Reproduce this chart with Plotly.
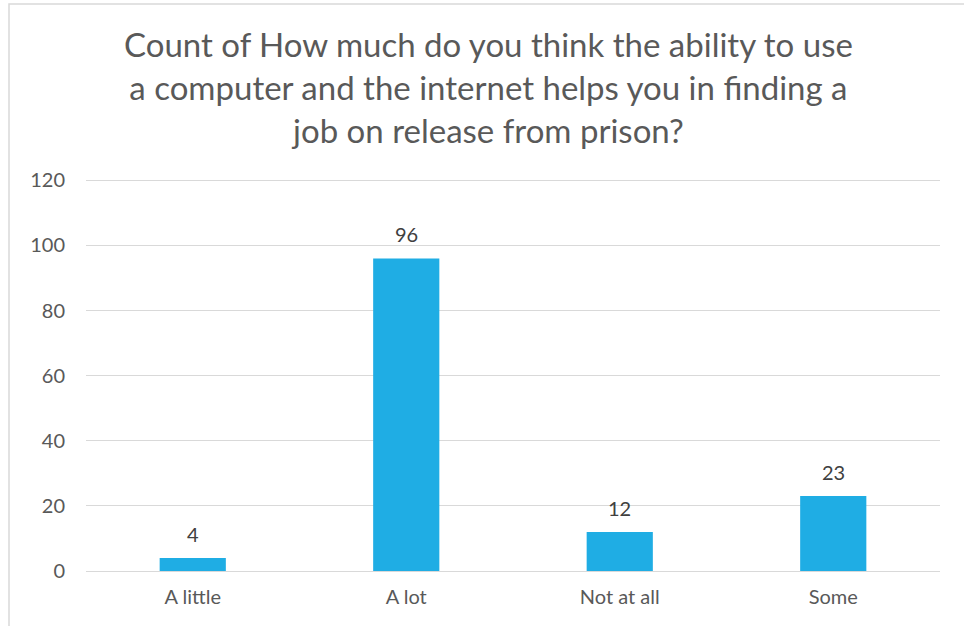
import plotly.graph_objects as go

categories = ["A little", "A lot", "Not at all", "Some"]
counts = [4, 96, 12, 23]
tick_vals = [0, 20, 40, 60, 80, 100, 120]
title_text = ("Count of How much do you think the ability to use<br>"
              "a computer and the internet helps you in finding a<br>"
              "job on release from prison?")

FONT = "Century Gothic, Futura, Lato, sans-serif"
W, H = 964, 626
L, R, T, B = 86, 24, 179, 55
pw, ph = W - L - R, H - T - B

fig = go.Figure()
fig.add_trace(go.Bar(
    x=categories, y=counts,
    marker=dict(color="#1FADE4", line=dict(width=0)),
    width=0.31,
    hoverinfo="x+y",
))

for c, v in zip(categories, counts):
    fig.add_annotation(x=c, y=v, text=str(v), showarrow=False,
                       yanchor="bottom", yshift=10,
                       font=dict(family=FONT, size=20, color="#404040"))

# chart title as a paper annotation (handles multi-line anchoring)
fig.add_annotation(text=title_text, xref="paper", yref="paper",
                   x=(488 - L) / pw, y=1, xanchor="center", yanchor="top",
                   yshift=T - 22, showarrow=False, align="center",
                   font=dict(family=FONT, size=33, color="#595959"))

# outer chart frame
fig.add_shape(type="rect", xref="paper", yref="paper",
              x0=(9 - L) / pw, x1=(975 - L) / pw,
              y0=-(640 - (H - B)) / ph,
              y1=(H - B - 4) / ph,
              line=dict(color="#D9D9D9", width=1.5), layer="below")

fig.update_layout(
    width=W, height=H,
    margin=dict(l=L, r=R, t=T, b=B),
    paper_bgcolor="white", plot_bgcolor="white",
    showlegend=False,
    bargap=0.69,
    xaxis=dict(showgrid=False, showline=False, ticks="",
               tickfont=dict(family=FONT, size=20, color="#595959"),
               ticklabelstandoff=12, fixedrange=True),
    yaxis=dict(range=[0, 120.4], tickvals=tick_vals, showgrid=True,
               gridcolor="#D9D9D9", gridwidth=1, zeroline=True,
               zerolinecolor="#D9D9D9", zerolinewidth=1, showline=False,
               ticks="", ticklabelstandoff=20,
               tickfont=dict(family=FONT, size=20, color="#595959"),
               fixedrange=True),
)

fig.write_html("out.html", config={"displayModeBar": False},
               post_script="document.body.style.margin='0';document.body.style.overflow='hidden';")
